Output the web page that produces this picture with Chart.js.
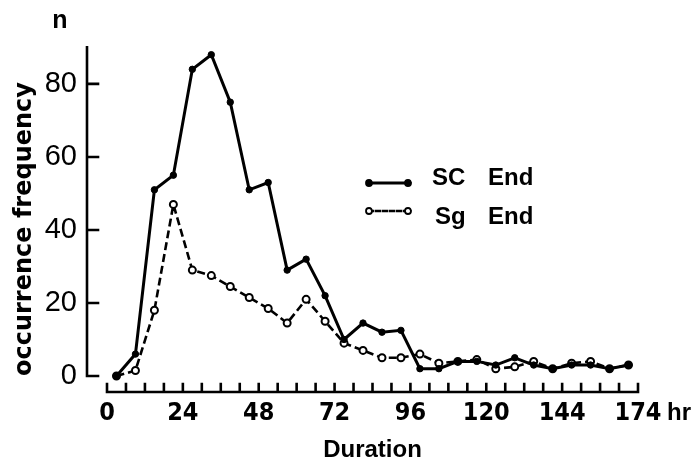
<!DOCTYPE html>
<html><head><meta charset="utf-8">
<script src="https://cdn.jsdelivr.net/npm/chart.js@4.4.0/dist/chart.umd.min.js"></script>
<style>html,body{margin:0;padding:0;background:#fff;overflow:hidden}#wrap{width:697px;height:462px;position:relative;background:#fff}</style>
</head><body><div id="wrap"><canvas id="c" width="697" height="462"></canvas></div>
<script>
// Duration bins (hr, bin centres)
const hours = [3,9,15,21,27,33,39,45,51,57,63,69,75,81,87,93,99,105,111,117,123,129,135,141,147,153,159,165];
// occurrence frequency n
const scEnd = [0,6,51,55,84,88,75,51,53,29,32,22,10,14.5,12,12.5,2,2,4,4,3,5,3,2,3,3,2,3];
const sgEnd = [0,1.5,18,47,29,27.5,24.5,21.5,18.5,14.5,21,15,9,7,5,5,6,3.5,4,4.5,2,2.5,4,2,3.5,4,2,3];
const seriesLabels = ['SC End','Sg End'];
const xTickValues = [0,24,48,72,96,120,144,168];
const xTickLabels = ['0','24','48','72','96','120','144','174'];
const yTickValues = [0,20,40,60,80];
const yTickLabels = ['0','20','40','60','80'];
const xTitle = 'Duration';
const yTitle = 'occurrence frequency';
const xUnit = 'hr';
const yUnit = 'n';

const SANS = "'Liberation Sans', Arial, sans-serif";
const NARROW = "'Liberation Sans Narrow', 'DejaVu Sans Condensed', 'Liberation Sans', sans-serif";

const framePlugin = {
  id: 'frame',
  afterDraw(chart) {
    const {ctx, chartArea: ca, scales: {x: xs, y: ys}} = chart;
    ctx.save();
    ctx.strokeStyle = '#000'; ctx.fillStyle = '#000';
    ctx.lineCap = 'square'; ctx.lineWidth = 2.6; ctx.setLineDash([]);
    // y axis with inward ticks
    const ax = ca.left - 20;
    ctx.beginPath();
    ctx.moveTo(ax, ys.getPixelForValue(ys.max));
    ctx.lineTo(ax, ys.getPixelForValue(ys.min));
    ys.ticks.forEach(t => { const py = ys.getPixelForValue(t.value); ctx.moveTo(ax, py); ctx.lineTo(ax + 11, py); });
    ctx.stroke();
    // x axis, offset below, upward ticks
    const ay = ca.bottom + 16;
    ctx.beginPath();
    ctx.moveTo(xs.getPixelForValue(xs.min), ay);
    ctx.lineTo(xs.getPixelForValue(xs.max), ay);
    xs.ticks.forEach(t => { const px = xs.getPixelForValue(t.value); ctx.moveTo(px, ay); ctx.lineTo(px, ay - 8); });
    ctx.stroke();
    // units
    ctx.font = "bold 25px " + SANS;
    ctx.textBaseline = 'alphabetic';
    ctx.textAlign = 'center';
    ctx.fillText(yUnit, ax - 27, 28);
    ctx.textAlign = 'left';
    ctx.font = "bold 24px " + SANS;
    ctx.fillText(xUnit, xs.getPixelForValue(xs.max) + 29, 420);
    // legend
    const rows = [{ly: 183, tx: 432, by: 185}, {ly: 211, tx: 435, by: 224}];
    chart.data.datasets.forEach((ds, i) => {
      const r = rows[i];
      ctx.strokeStyle = '#000';
      ctx.lineWidth = i === 0 ? 3 : 2.4;
      ctx.setLineDash(i === 0 ? [] : [4, 3]);
      ctx.beginPath(); ctx.moveTo(369, r.ly); ctx.lineTo(408, r.ly); ctx.stroke();
      ctx.setLineDash([]);
      [369, 408].forEach(px => {
        ctx.beginPath(); ctx.arc(px, r.ly, 3, 0, Math.PI * 2);
        ctx.fillStyle = ds.pointBackgroundColor; ctx.fill();
        ctx.lineWidth = 1.8; ctx.strokeStyle = '#000'; ctx.stroke();
      });
      ctx.fillStyle = '#000';
      ctx.font = "bold 24px " + SANS;
      const words = ds.label.split(' ');
      ctx.fillText(words[0], r.tx, r.by);
      ctx.fillText(words.slice(1).join(' '), 488, r.by);
    });
    ctx.restore();
  }
};

new Chart(document.getElementById('c'), {
  type: 'line',
  data: {
    datasets: [
      { label: seriesLabels[0], data: hours.map((h, i) => ({x: h, y: scEnd[i]})),
        borderColor: '#000', borderWidth: 3, pointRadius: 3.2, pointBackgroundColor: '#000',
        pointBorderColor: '#000', pointBorderWidth: 1, tension: 0, clip: false },
      { label: seriesLabels[1], data: hours.map((h, i) => ({x: h, y: sgEnd[i]})),
        borderColor: '#000', borderWidth: 2.6, borderDash: [8, 4], pointRadius: 3.5, pointBackgroundColor: '#fff',
        pointBorderColor: '#000', pointBorderWidth: 2, tension: 0, clip: false }
    ]
  },
  options: {
    responsive: false, animation: false, devicePixelRatio: 1,
    layout: {padding: {top: 32, right: 59, bottom: 0, left: 0}},
    plugins: {legend: {display: false}, tooltip: {enabled: false}},
    scales: {
      x: {
        type: 'linear', min: 0, max: 168,
        grid: {display: false, drawTicks: false}, border: {display: false},
        ticks: {stepSize: 6, autoSkip: false, maxRotation: 0, padding: 22, color: '#000',
          font: {family: NARROW, size: 25, weight: 'bold'},
          callback: v => { const k = xTickValues.indexOf(v); return k >= 0 ? xTickLabels[k] : ''; }},
        title: {display: true, text: xTitle, color: '#000',
          font: {family: SANS, size: 24, weight: 'bold', lineHeight: 1}, padding: {top: 0, bottom: 0}},
        afterFit: s => { s.height = 86; }
      },
      y: {
        min: 0, max: 90,
        grid: {display: false, drawTicks: false}, border: {display: false},
        ticks: {stepSize: 10, padding: 30, color: '#000', font: {family: SANS, size: 29},
          callback: v => { const k = yTickValues.indexOf(v); return k >= 0 ? yTickLabels[k] : ''; }},
        title: {display: true, text: yTitle, align: 'start', color: '#000',
          font: {family: "'DejaVu Sans', sans-serif", size: 24, weight: 'bold', lineHeight: 1.2}, padding: {top: 10, bottom: 0}},
        afterFit: s => { s.width = 107; }
      }
    }
  },
  plugins: [framePlugin]
});
</script></body></html>
